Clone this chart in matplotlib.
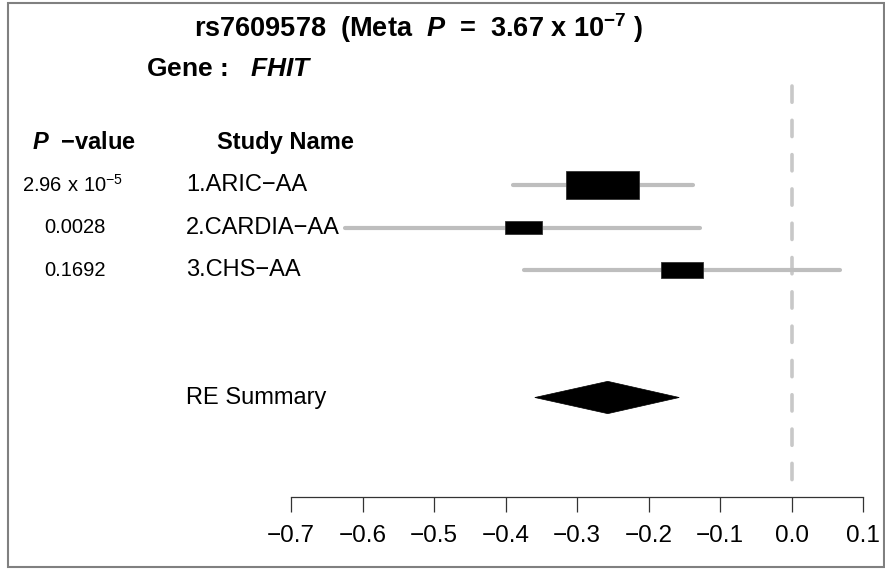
import matplotlib
matplotlib.use("Agg")
import matplotlib.pyplot as plt
from matplotlib.patches import Rectangle, Polygon
import numpy as np

plt.rcParams['font.family'] = ['Liberation Sans', 'DejaVu Sans']
plt.rcParams['mathtext.fontset'] = 'custom'
plt.rcParams['mathtext.rm'] = 'Liberation Sans:bold'
plt.rcParams['mathtext.it'] = 'Liberation Sans:bold:italic'
plt.rcParams['mathtext.bf'] = 'Liberation Sans:bold'
plt.rcParams['mathtext.sf'] = 'Liberation Sans'

# ---- data ----
snp = "rs7609578"
gene = "FHIT"
meta_p = r"3.67 x 10$^{-7}$"
studies = ["1.ARIC\u2212AA", "2.CARDIA\u2212AA", "3.CHS\u2212AA"]
p_values = [r"$\mathsf{2.96\ x\ 10^{-5}}$", "0.0028", "0.1692"]
estimates = [-0.264, -0.375, -0.153]
ci_low = [-0.390, -0.625, -0.374]
ci_high = [-0.138, -0.128, 0.068]
summary_label = "RE Summary"
summary_est = -0.257
summary_low = -0.359
summary_high = -0.157
xticks = [-0.7, -0.6, -0.5, -0.4, -0.3, -0.2, -0.1, 0.0, 0.1]

W, H = 885, 570
fig = plt.figure(figsize=(W / 100, H / 100), dpi=100)
ax = fig.add_axes([0, 0, 1, 1])

# x: -0.7 at px 291, 0.1 at px 863 ; y: row r at px 142.5 + 42.5 r
ppu = (863 - 291) / 0.8
x0 = -0.7 - 291 / ppu
ax.set_xlim(x0, x0 + W / ppu)
row_px = 42.5
ax.set_ylim((H - 142.5) / row_px, -142.5 / row_px)

def px2x(p):
    return x0 + p / ppu

def py2r(p):
    return (p - 142.5) / row_px

rows = np.arange(1, len(studies) + 1)
summary_row = 6

# reference line at zero
ax.plot([0, 0], [py2r(86), py2r(497)], color='#c8c8c8', lw=2.6,
        dashes=(4.5, 5.0), solid_capstyle='round', dash_capstyle='round', zorder=1)

# confidence intervals and weighted boxes
ses = [(h - l) / 3.92 for l, h in zip(ci_low, ci_high)]
box_k = 0.0066
for r, est, lo, hi, se in zip(rows, estimates, ci_low, ci_high, ses):
    ax.plot([lo, hi], [r, r], color='#bebebe', lw=3.0, solid_capstyle='round', zorder=2)
    bw = box_k / se
    bh = bw * ppu / 2.7 / row_px
    ax.add_patch(Rectangle((est - bw / 2, r - bh / 2), bw, bh,
                           facecolor='black', edgecolor='#333333', lw=0.6, zorder=3))

# summary diamond
dh = 0.38
ax.add_patch(Polygon([[summary_low, summary_row], [summary_est, summary_row - dh],
                      [summary_high, summary_row], [summary_est, summary_row + dh]],
                     closed=True, facecolor='black', edgecolor='black', lw=0.5, zorder=3))

# text columns
ax.text(px2x(419), py2r(28), f"{snp}  (Meta  $\\mathit{{P}}$  =  {meta_p} )",
        ha='center', va='center', fontsize=19.5, fontweight='bold')
ax.text(px2x(146), py2r(69), f"Gene :   $\\mathit{{{gene}}}$",
        ha='left', va='center', fontsize=19, fontweight='bold')
ax.text(px2x(84), 0, "$\\mathit{P}$  \u2212value", ha='center', va='center',
        fontsize=17, fontweight='bold')
ax.text(px2x(217), 0, "Study Name", ha='left', va='center', fontsize=17, fontweight='bold')

for r, name, pv in zip(rows, studies, p_values):
    ax.text(px2x(186), r, name, ha='left', va='center', fontsize=17)
    ax.text(px2x(73 if '10' in pv else 75), r, pv, ha='center', va='center', fontsize=14.5)
ax.text(px2x(186), summary_row, summary_label, ha='left', va='center', fontsize=17)

# x axis
for s in ['top', 'left', 'right']:
    ax.spines[s].set_visible(False)
ax.spines['bottom'].set_position(('data', py2r(497)))
ax.spines['bottom'].set_bounds(xticks[0], xticks[-1])
ax.spines['bottom'].set_color('#333333')
ax.spines['bottom'].set_linewidth(0.9)
ax.set_xticks(xticks)
ax.set_xticklabels([f"{t:.1f}".replace('-', '\u2212') for t in xticks])
ax.tick_params(axis='x', direction='out', length=11, width=0.9, color='#333333',
               labelsize=17.5, pad=9.5)
ax.set_yticks([])

# outer frame
fig.add_artist(Rectangle((8 / W, 3 / H), (W - 9) / W, (H - 6) / H,
                         transform=fig.transFigure, fill=False,
                         edgecolor='#808080', lw=1.5))

fig.savefig("out.png", dpi=100)
